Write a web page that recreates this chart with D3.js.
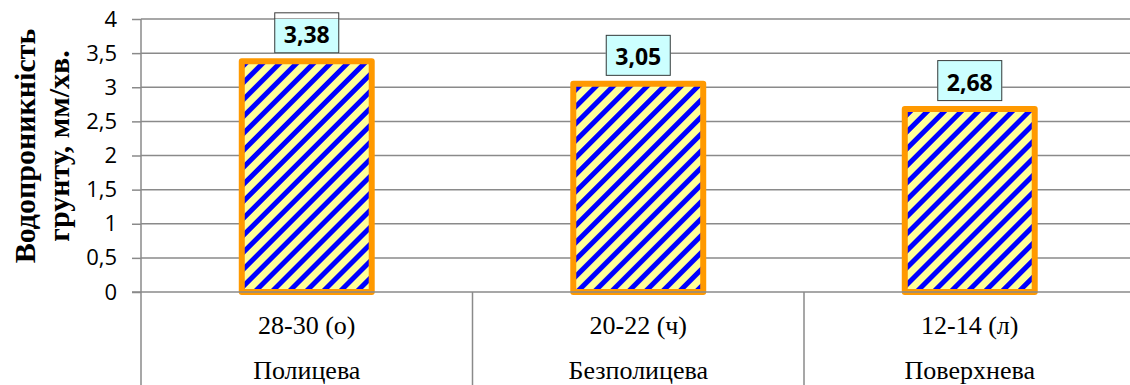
<!DOCTYPE html>
<html>
<head>
<meta charset="utf-8">
<script src="https://cdn.jsdelivr.net/npm/d3@7/dist/d3.min.js"></script>
<style>
  html, body { margin: 0; padding: 0; background: #fff; }
  svg { display: block; }
</style>
</head>
<body>
<svg id="chart" width="1130" height="385"></svg>
<script>
// Water permeability of soil by furrow type
const groups = ["Полицева", "Безполицева", "Поверхнева"];
const depths = ["28-30 (о)", "20-22 (ч)", "12-14 (л)"];
const values = [3.38, 3.05, 2.68];
const valueLabels = ["3,38", "3,05", "2,68"];
const yTicks = [0, 0.5, 1, 1.5, 2, 2.5, 3, 3.5, 4];
const yTitle = ["Водопроникність", "грунту, мм/хв."];

(function () {
const W = 1130, H = 385;
const plotLeft = 141, plotTop = 19, plotBottom = 292, step = 331.5;
const plotRight = plotLeft + step * groups.length;

const svg = d3.select("#chart");

const x = d3.scaleBand().domain(groups).range([plotLeft, plotRight]).padding(0);
const y = d3.scaleLinear().domain([0, 4]).range([plotBottom, plotTop]);
const fmt = v => String(v).replace(".", ",");

// diagonal stripe fill for bars
const defs = svg.append("defs");
const pat = defs.append("pattern")
  .attr("id", "stripes")
  .attr("patternUnits", "userSpaceOnUse")
  .attr("width", 12).attr("height", 12)
  .attr("patternTransform", "rotate(45)");
pat.append("rect").attr("width", 12).attr("height", 12).attr("fill", "#FFFF99");
pat.append("rect").attr("width", 5).attr("height", 12).attr("fill", "#0000FF");

const gridColor = "#8a8a8a";

// horizontal gridlines
svg.append("g").selectAll("line").data(yTicks.filter(t => t > 0)).join("line")
  .attr("x1", plotLeft).attr("x2", W)
  .attr("y1", d => y(d)).attr("y2", d => y(d))
  .attr("stroke", gridColor).attr("stroke-width", 1.5);

// y axis with ticks on the left
const yAxis = d3.axisLeft(y).tickValues(yTicks).tickFormat(fmt).tickSize(9).tickPadding(15);
const ya = svg.append("g").attr("transform", `translate(${plotLeft},0)`).call(yAxis);
ya.select(".domain").remove();
ya.selectAll(".tick line").attr("stroke", gridColor).attr("stroke-width", 1.5);
ya.selectAll(".tick text")
  .attr("font-family", "'Open Sans', sans-serif").attr("font-size", 22)
  .attr("fill", "#000");

// vertical axis line, running down through the category area
svg.append("line").attr("x1", plotLeft).attr("x2", plotLeft).attr("y1", plotTop).attr("y2", H)
  .attr("stroke", gridColor).attr("stroke-width", 1.5);

// category separators
svg.append("g").selectAll("line").data(groups.slice(1)).join("line")
  .attr("x1", d => x(d)).attr("x2", d => x(d))
  .attr("y1", plotBottom).attr("y2", H)
  .attr("stroke", gridColor).attr("stroke-width", 1.5);

// bars
const barW = x.bandwidth() * 0.392;
svg.append("g").selectAll("rect").data(values).join("rect")
  .attr("x", (d, i) => x(groups[i]) + x.bandwidth() / 2 - barW / 2)
  .attr("y", d => y(d))
  .attr("width", barW)
  .attr("height", d => y(0) - y(d))
  .attr("fill", "url(#stripes)")
  .attr("stroke", "#FF9900").attr("stroke-width", 6)
  .attr("stroke-linejoin", "round");

// horizontal axis line
svg.append("line").attr("x1", plotLeft - 9).attr("x2", W).attr("y1", plotBottom).attr("y2", plotBottom)
  .attr("stroke", gridColor).attr("stroke-width", 1.5);

// value labels in boxes; the fill stays inside the plot area
const boxW = 65, boxH = 41;
const boxTop = d => y(d) - 8 - boxH;
const lab = svg.append("g").selectAll("g").data(values).join("g")
  .attr("transform", (d, i) => `translate(${x(groups[i]) + x.bandwidth() / 2},${boxTop(d)})`);
lab.append("rect")
  .attr("x", -boxW / 2)
  .attr("y", d => Math.max(0, plotTop - boxTop(d)))
  .attr("width", boxW)
  .attr("height", d => boxH - Math.max(0, plotTop - boxTop(d)))
  .attr("fill", "#CCFFFF");
lab.append("rect")
  .attr("x", -boxW / 2 + 0.5).attr("y", 0.5).attr("width", boxW - 1).attr("height", boxH - 1)
  .attr("fill", "none").attr("stroke", "#3a3a3a").attr("stroke-width", 1);
lab.append("text")
  .attr("x", 0).attr("y", boxH / 2 + 10)
  .attr("text-anchor", "middle")
  .attr("font-family", "'Open Sans', sans-serif").attr("font-weight", "bold").attr("font-size", 23)
  .attr("fill", "#000")
  .text((d, i) => valueLabels[i]);

// category labels, two levels
const cat = svg.append("g").attr("font-family", "'Liberation Serif', 'Times New Roman', serif")
  .attr("font-size", 26).attr("fill", "#000").attr("text-anchor", "middle");
cat.selectAll("text.sub").data(depths).join("text").attr("class", "sub")
  .attr("x", (d, i) => x(groups[i]) + x.bandwidth() / 2).attr("y", 334).text(d => d);
cat.selectAll("text.grp").data(groups).join("text").attr("class", "grp")
  .attr("x", d => x(d) + x.bandwidth() / 2).attr("y", 379).text(d => d);

// y axis title
const yt = svg.append("text")
  .attr("transform", "translate(0,146) rotate(-90)")
  .attr("font-family", "'Liberation Serif', 'Times New Roman', serif")
  .attr("font-weight", "bold").attr("font-size", 30)
  .attr("text-anchor", "middle").attr("fill", "#000");
yt.selectAll("tspan").data(yTitle).join("tspan")
  .attr("x", 0).attr("y", (d, i) => 35 + i * 34)
  .text(d => d);
})();
</script>
</body>
</html>
